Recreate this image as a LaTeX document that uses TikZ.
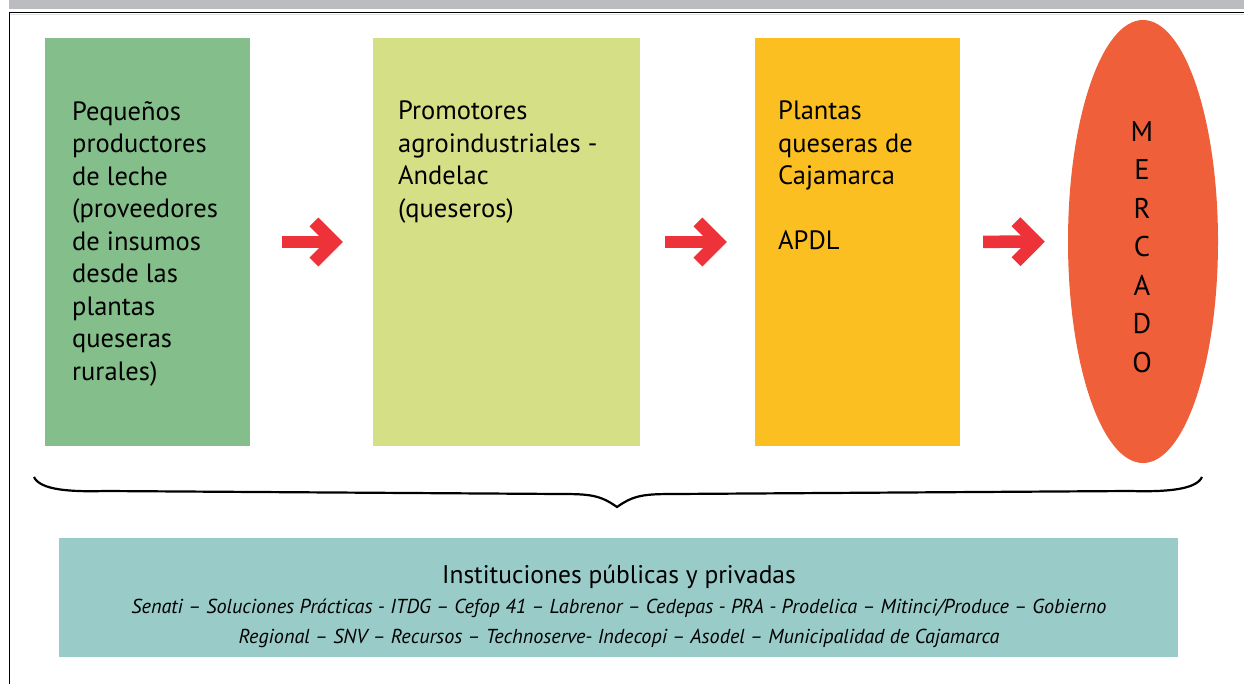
\documentclass[tikz,border=0pt]{standalone}
\usepackage{fontspec}
\setmainfont{PT Sans}
\usetikzlibrary{shapes.geometric,arrows.meta}
\definecolor{bargrey}{HTML}{BBBCBF}
\definecolor{prodgreen}{HTML}{84BE8A}
\definecolor{promyellow}{HTML}{D5DF85}
\definecolor{plantorange}{HTML}{FBBF22}
\definecolor{mercred}{HTML}{EF5F3A}
\definecolor{flowred}{HTML}{EE323A}
\definecolor{instteal}{HTML}{99CCC8}
\begin{document}
\begin{tikzpicture}[x=1pt, y=-1pt,
  stage/.style={rectangle, inner sep=0pt, minimum width=205pt, minimum height=408pt},
  stagetext/.style={anchor=north west, align=left, inner sep=0pt, font=\fontsize{26.5}{32.5}\selectfont},
  flow/.style={draw=flowred, line width=12.5pt, -{Straight Barb[length=20pt, width=40pt]}}]
\useasboundingbox (0,0) rectangle (1244,684);
\fill[bargrey] (9,0) rectangle (1244,9);
\draw[black!12, line width=1.5pt] (10,14.5) -- (1244,14.5);
\draw[line width=1.3pt] (9.5,684) -- (9.5,12.5) -- (1244,12.5);

\node (prod) at (147.5,242) [stage, fill=prodgreen] {};
\node (prom) at (506.5,242) [stage, fill=promyellow, minimum width=267pt] {};
\node (plan) at (857.5,242) [stage, fill=plantorange] {};
\node (merc) at (1143,241.5) [ellipse, fill=mercred, inner sep=0pt, minimum width=150pt, minimum height=443pt] {};
\node (inst) at (618.5,597.5) [rectangle, fill=instteal, inner sep=0pt, minimum width=1119pt, minimum height=119pt] {};

\node (prodtxt) at (72,101) [stagetext] {Pequeños\\productores\\de leche\\(proveedores\\de insumos\\desde las\\plantas\\queseras\\rurales)};
\node (promtxt) at (398,101) [stagetext] {Promotores\\agroindustriales -\\Andelac\\(queseros)};
\node (plantxt) at (778,101) [stagetext] {Plantas\\queseras de\\Cajamarca\\[32.5pt]APDL};
\node (merctxt) at (1142,247) [align=center, inner sep=0pt, font=\fontsize{28.5}{38.5}\selectfont] {M\\E\\R\\C\\A\\D\\O};

\draw[flow, shorten <=32pt, shorten >=30pt] (prod) to (prom);
\draw[flow, shorten <=25pt, shorten >=28pt] (prom) to (plan);
\draw[flow, shorten <=23pt, shorten >=23pt] (plan) to (merc);

\draw[line width=2.2pt] (34,477) .. controls (40,490) and (70,492) .. (105,491) -- (560,494) .. controls (590,494) and (600,495) .. (617,507) .. controls (634,495) and (644,494) .. (675,494) -- (1130,491) .. controls (1165,492) and (1196,490) .. (1202,477);

\node (insttitle) at (619,583) [anchor=base, inner sep=0pt, font=\fontsize{25.5}{30}\selectfont] {Instituciones públicas y privadas};
\node (instlist) at (619,599) [anchor=north, align=center, inner sep=0pt, font=\fontsize{20.2}{30}\selectfont\itshape] {Senati – Soluciones Prácticas - ITDG – Cefop 41 – Labrenor – Cedepas - PRA - Prodelica – Mitinci/Produce – Gobierno\\Regional – SNV – Recursos – Technoserve- Indecopi – Asodel – Municipalidad de Cajamarca};
\end{tikzpicture}
\end{document}
